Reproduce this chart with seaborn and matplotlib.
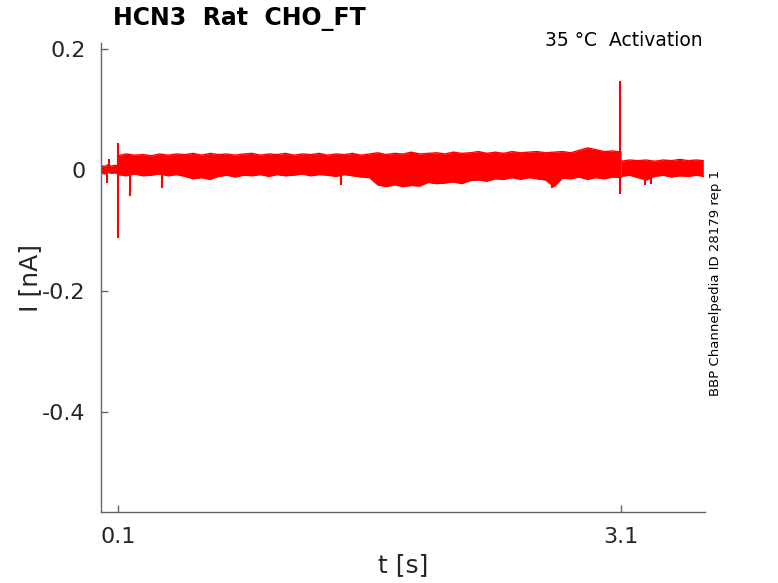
import numpy as np
import pandas as pd
import matplotlib
matplotlib.use("Agg")
import matplotlib.pyplot as plt
import seaborn as sns

# ---------------- data ----------------
pre_t = [0.0, 0.02, 0.04, 0.06, 0.08, 0.10]
pre_hi = [0.008, 0.006, 0.009, 0.007, 0.008, 0.008]
pre_lo = [-0.004, -0.006, -0.003, -0.005, -0.004, -0.005]

main_t = [0.10, 0.15, 0.20, 0.25, 0.30, 0.35, 0.40, 0.45, 0.50, 0.55,
          0.60, 0.65, 0.70, 0.75, 0.80, 0.85, 0.90, 0.95, 1.00, 1.05,
          1.10, 1.15, 1.20, 1.25, 1.30, 1.35, 1.40, 1.45, 1.50, 1.55,
          1.60, 1.65, 1.70, 1.75, 1.80, 1.85, 1.90, 1.95, 2.00, 2.05,
          2.10, 2.15, 2.20, 2.25, 2.30, 2.35, 2.40, 2.45, 2.50, 2.55,
          2.60, 2.65, 2.70, 2.75, 2.80, 2.85, 2.90, 2.95, 3.00, 3.05, 3.10]
main_hi = [0.024, 0.027, 0.025, 0.026, 0.024, 0.027, 0.025, 0.027, 0.026, 0.028,
           0.025, 0.028, 0.026, 0.027, 0.025, 0.027, 0.028, 0.025, 0.027, 0.026,
           0.028, 0.025, 0.027, 0.026, 0.028, 0.025, 0.027, 0.026, 0.028, 0.025,
           0.027, 0.029, 0.026, 0.028, 0.027, 0.030, 0.027, 0.028, 0.029, 0.027,
           0.030, 0.028, 0.029, 0.031, 0.028, 0.030, 0.028, 0.031, 0.029, 0.030,
           0.031, 0.029, 0.030, 0.031, 0.029, 0.033, 0.037, 0.034, 0.031, 0.032, 0.030]
main_lo = [-0.007, -0.009, -0.006, -0.009, -0.008, -0.006, -0.009, -0.007, -0.010, -0.014,
           -0.012, -0.015, -0.010, -0.008, -0.011, -0.008, -0.009, -0.007, -0.010, -0.007,
           -0.009, -0.008, -0.006, -0.009, -0.007, -0.008, -0.010, -0.007, -0.009, -0.011,
           -0.012, -0.024, -0.027, -0.024, -0.027, -0.025, -0.026, -0.020, -0.022, -0.021,
           -0.019, -0.022, -0.017, -0.016, -0.018, -0.014, -0.015, -0.012, -0.015, -0.012,
           -0.014, -0.016, -0.027, -0.013, -0.014, -0.011, -0.015, -0.012, -0.014, -0.011, -0.012]

post_t = [3.10, 3.15, 3.20, 3.25, 3.30, 3.35, 3.40, 3.45, 3.50, 3.55, 3.59]
post_hi = [0.015, 0.017, 0.016, 0.017, 0.015, 0.017, 0.016, 0.018, 0.016, 0.017, 0.016]
post_lo = [-0.010, -0.008, -0.012, -0.016, -0.010, -0.008, -0.011, -0.009, -0.010, -0.008, -0.010]

spike_t = [0.033, 0.045, 0.100, 0.100, 0.174, 0.366, 1.430, 2.690, 3.092, 3.092, 3.240, 3.280]
spike_v = [-0.021, 0.019, 0.045, -0.112, -0.042, -0.029, -0.025, -0.030, 0.147, -0.039, -0.024, -0.022]

xtick_vals = [0.1, 3.1]
xtick_labels = ["0.1", "3.1"]
ytick_vals = [0.2, 0.0, -0.2, -0.4]
ytick_labels = ["0.2", "0", "-0.2", "-0.4"]

title = "HCN3  Rat  CHO_FT"
condition = "35 \u00b0C  Activation"
source = "BBP Channelpedia ID 28179 rep 1"

# ---------------- plotting ----------------
sns.set_theme(style="white")
plt.rcParams['font.family'] = ['DejaVu Sans']

W, H = 778, 583
fig = plt.figure(figsize=(W / 100, H / 100), dpi=100)
ax = fig.add_axes([101 / W, 1 - 512 / H, 604 / W, 469 / H])

red = "#ff0000"
segments = [(pre_t, pre_hi, pre_lo), (main_t, main_hi, main_lo), (post_t, post_hi, post_lo)]
for t, hi, lo in segments:
    df = pd.DataFrame({"t": t, "hi": hi, "lo": lo})
    ax.fill_between(df["t"], df["lo"], df["hi"], color=red, linewidth=0)
    sns.lineplot(data=df, x="t", y="hi", ax=ax, color=red, linewidth=1.0)
    sns.lineplot(data=df, x="t", y="lo", ax=ax, color=red, linewidth=1.0)

ax.vlines(spike_t, [0.0] * len(spike_t), spike_v, color=red, linewidth=1.5)

ax.set_xlim(0.0, 3.6)
ax.set_ylim(-0.565, 0.2105)

ax.set_xticks(xtick_vals)
ax.set_xticklabels(xtick_labels)
ax.set_yticks(ytick_vals)
ax.set_yticklabels(ytick_labels)

for s in ["top", "right"]:
    ax.spines[s].set_visible(False)
for s in ["left", "bottom"]:
    ax.spines[s].set_color("#666666")
    ax.spines[s].set_linewidth(1.0)

ax.tick_params(axis="both", direction="in", length=5, width=1, color="#666666",
               labelsize=16, labelcolor="#262626", pad=11, left=True, bottom=True)

ax.set_xlabel("t [s]", fontsize=18, color="#262626")
ax.set_ylabel("I [nA]", fontsize=18, color="#262626")
ax.xaxis.set_label_coords(0.5, -0.087)
ax.yaxis.set_label_coords(-0.097, 0.5)

fig.text(113 / W, 1 - 19 / H, title, fontsize=17, fontweight="bold",
         color="black", ha="left", va="center")
fig.text(703 / W, 1 - 41 / H, condition, fontsize=13.5,
         color="black", ha="right", va="center")
fig.text(716 / W, 1 - 283 / H, source, fontsize=9.5,
         color="black", rotation=90, ha="center", va="center")

fig.savefig("out.png", dpi=100)
